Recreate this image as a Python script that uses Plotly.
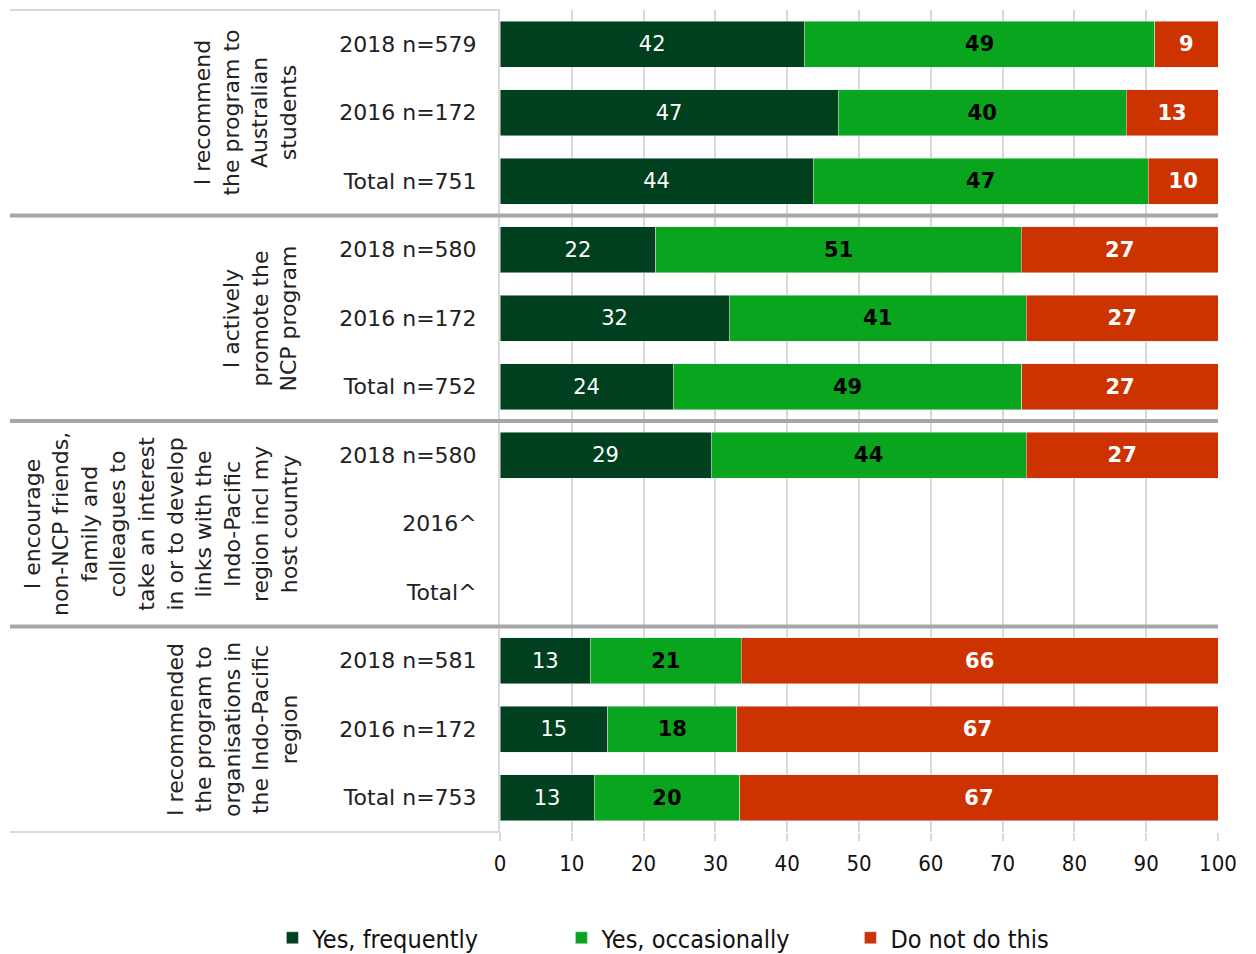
import plotly.graph_objects as go

# rows top -> bottom
row_labels = ["2018 n=579", "2016 n=172", "Total n=751",
              "2018 n=580", "2016 n=172", "Total n=752",
              "2018 n=580", "2016^", "Total^",
              "2018 n=581", "2016 n=172", "Total n=753"]
rows = list(range(len(row_labels)))

yes_freq = [42.4, 47.1, 43.6, 21.7, 31.9, 24.1, 29.4, None, None, 12.6, 15.0, 13.1]
yes_occ = [48.8, 40.1, 46.7, 50.9, 41.4, 48.6, 43.9, None, None, 21.0, 18.0, 20.3]
not_do = [8.8, 12.8, 9.7, 27.4, 26.7, 27.3, 26.7, None, None, 66.4, 67.0, 66.6]

groups = ["I recommend<br>the program to<br>Australian<br>students",
          "I actively<br>promote the<br>NCP program",
          "I encourage<br>non-NCP friends,<br>family and<br>colleagues to<br>take an interest<br>"
          "in or to develop<br>links with the<br>Indo-Pacific<br>region incl my<br>host country",
          "I recommended<br>the program to<br>organisations in<br>the Indo-Pacific<br>region"]
group_mid = [1, 4, 7, 10]
separators = [2.5, 5.5, 8.5]

DARK = "#00401F"
GREEN = "#0AA51E"
RED = "#CC3300"
MAIN = "DejaVu Sans, Verdana, sans-serif"
NARROW = "Liberation Sans Narrow, DejaVu Sans Condensed, Arial Narrow, sans-serif"

fig = go.Figure()
fig.add_bar(name="Yes, frequently", y=rows, x=yes_freq, orientation="h", marker_color=DARK,
            texttemplate="%{x:.0f}", textposition="inside", insidetextanchor="middle",
            textfont=dict(family=MAIN, size=21, color="white"))
fig.add_bar(name="Yes, occasionally", y=rows, x=yes_occ, orientation="h", marker_color=GREEN,
            texttemplate="<b>%{x:.0f}</b>", textposition="inside", insidetextanchor="middle",
            textfont=dict(family=MAIN, size=21, color="black"))
fig.add_bar(name="Do not do this", y=rows, x=not_do, orientation="h", marker_color=RED,
            texttemplate="<b>%{x:.0f}</b>", textposition="inside", insidetextanchor="middle",
            textfont=dict(family=MAIN, size=21, color="white"))

for txt, ym in zip(groups, group_mid):
    fig.add_annotation(text=txt, xref="paper", yref="y", x=-0.274, y=ym, xanchor="right",
                       yanchor="middle", textangle=-90, showarrow=False, align="center",
                       font=dict(family=MAIN, size=22, color="#222"))

for s in separators:
    fig.add_shape(type="line", xref="paper", yref="y", x0=-0.6825, x1=1, y0=s, y1=s,
                  line=dict(color="#A6A6A6", width=4))
for yp in [0, 1]:
    fig.add_shape(type="line", xref="paper", yref="paper", x0=-0.6825, x1=0, y0=yp, y1=yp,
                  line=dict(color="#D9D9D9", width=2))

fig.update_layout(
    barmode="stack", bargap=0.33,
    width=1248, height=960,
    margin=dict(l=492, r=38, t=2, b=136),
    plot_bgcolor="white", paper_bgcolor="white",
    uniformtext=dict(minsize=21, mode="show"),
    legend=dict(orientation="h", x=-0.317, xanchor="left", y=-0.129, yanchor="middle",
                font=dict(family=NARROW, size=25, color="#111"), entrywidth=244,
                traceorder="normal"),
    xaxis=dict(range=[0, 100], dtick=10, showgrid=True, gridcolor="#D9D9D9", gridwidth=2,
               ticks="outside", ticklen=8, tickcolor="#D9D9D9", tickwidth=2,
               zeroline=False, showline=False, ticklabelstandoff=4,
               tickfont=dict(family=NARROW, size=22, color="#111")),
    yaxis=dict(tickvals=rows, ticktext=row_labels, range=[11.5, -0.5],
               showgrid=False, zeroline=False, showline=True, linecolor="#D9D9D9", linewidth=2,
               ticks="", ticklabelstandoff=17,
               tickfont=dict(family=MAIN, size=22, color="#222")),
)

fig.write_html("out.html")
